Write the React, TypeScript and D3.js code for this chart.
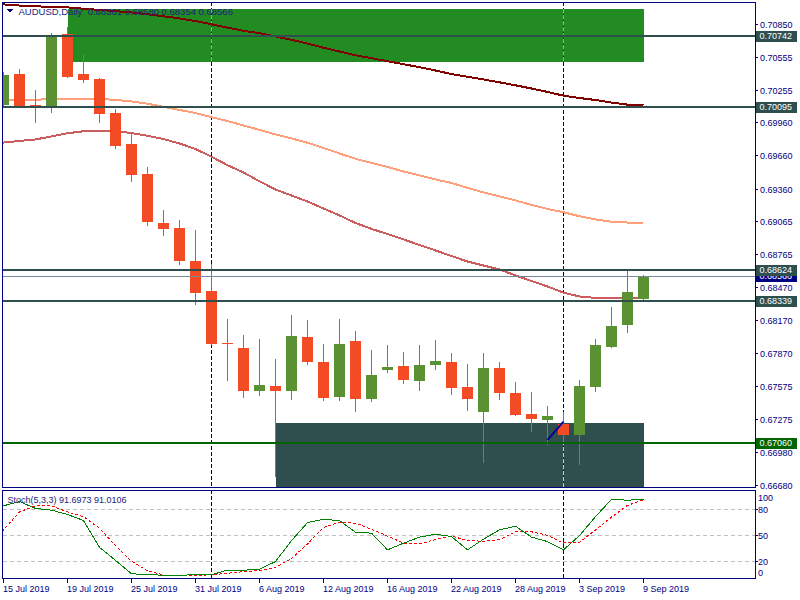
import React from 'react';
import * as d3 from 'd3';

// ---------- data ----------
const DATES = [
  '15 Jul 2019', '16 Jul 2019', '17 Jul 2019', '18 Jul 2019', '19 Jul 2019', '22 Jul 2019', '23 Jul 2019',
  '24 Jul 2019', '25 Jul 2019', '26 Jul 2019', '29 Jul 2019', '30 Jul 2019', '31 Jul 2019',
  '1 Aug 2019', '2 Aug 2019', '5 Aug 2019', '6 Aug 2019', '7 Aug 2019', '8 Aug 2019', '9 Aug 2019',
  '12 Aug 2019', '13 Aug 2019', '14 Aug 2019', '15 Aug 2019', '16 Aug 2019', '19 Aug 2019', '20 Aug 2019',
  '21 Aug 2019', '22 Aug 2019', '23 Aug 2019', '26 Aug 2019', '27 Aug 2019', '28 Aug 2019', '29 Aug 2019',
  '30 Aug 2019', '2 Sep 2019', '3 Sep 2019', '4 Sep 2019', '5 Sep 2019', '6 Sep 2019', '9 Sep 2019',
];
const OPEN = [
  0.70117, 0.70397, 0.70117, 0.70092, 0.70762, 0.70397, 0.70352, 0.70044, 0.69764, 0.69492, 0.69049,
  0.69003, 0.68705, 0.68433, 0.67962, 0.67917, 0.67531, 0.67573, 0.67531, 0.68017, 0.67791, 0.67477,
  0.67981, 0.67458, 0.67721, 0.67754, 0.67621, 0.67766, 0.67791, 0.67564, 0.67338, 0.67736, 0.67510,
  0.67320, 0.67266, 0.67229, 0.67130, 0.67564, 0.67926, 0.68126, 0.68361,
];
const HIGH = [
  0.70415, 0.70443, 0.70253, 0.70769, 0.70820, 0.70578, 0.70361, 0.70081, 0.69854, 0.69556, 0.69166,
  0.69076, 0.68985, 0.68678, 0.68180, 0.68035, 0.67999, 0.67818, 0.68216, 0.68171, 0.67954, 0.68180,
  0.68071, 0.67899, 0.67944, 0.67881, 0.67944, 0.67990, 0.67872, 0.67773, 0.67872, 0.67791, 0.67610,
  0.67519, 0.67392, 0.67338, 0.67628, 0.67999, 0.68288, 0.68614, 0.68580,
];
const LOW = [
  0.70108, 0.70099, 0.69954, 0.70047, 0.70364, 0.70313, 0.69957, 0.69719, 0.69420, 0.69022, 0.68931,
  0.68669, 0.68307, 0.67940, 0.67621, 0.67465, 0.67483, 0.66752, 0.67450, 0.67766, 0.67440, 0.67440,
  0.67341, 0.67431, 0.67694, 0.67594, 0.67531, 0.67721, 0.67492, 0.67347, 0.66879, 0.67447, 0.67302,
  0.67157, 0.67039, 0.67066, 0.66858, 0.67519, 0.67917, 0.68053, 0.68354,
];
const CLOSE = [
  0.70388, 0.70108, 0.70090, 0.70750, 0.70373, 0.70343, 0.70035, 0.69746, 0.69483, 0.69058, 0.68994,
  0.68705, 0.68415, 0.67956, 0.67955, 0.67531, 0.67582, 0.67531, 0.68026, 0.67793, 0.67465, 0.67954,
  0.67458, 0.67673, 0.67743, 0.67630, 0.67763, 0.67800, 0.67558, 0.67456, 0.67736, 0.67510, 0.67311,
  0.67275, 0.67302, 0.67130, 0.67573, 0.67944, 0.68116, 0.68424, 0.68566,
];
// moving averages, first value belongs to the bar before 15 Jul (off-screen)
const MA_SLOW = [
  0.71031, 0.71027, 0.71017, 0.71010, 0.71005, 0.71000, 0.70988, 0.70977, 0.70966, 0.70954, 0.70938,
  0.70920, 0.70900, 0.70877, 0.70847, 0.70817, 0.70788, 0.70767, 0.70737, 0.70707, 0.70673, 0.70635,
  0.70601, 0.70567, 0.70540, 0.70513, 0.70486, 0.70459, 0.70429, 0.70397, 0.70372, 0.70348, 0.70322,
  0.70295, 0.70266, 0.70235, 0.70201, 0.70180, 0.70162, 0.70139, 0.70120, 0.70114,
];
const MA_MID = [
  0.70162, 0.70162, 0.70162, 0.70165, 0.70169, 0.70173, 0.70174, 0.70171, 0.70163, 0.70149, 0.70128,
  0.70101, 0.70072, 0.70044, 0.70006, 0.69972, 0.69931, 0.69892, 0.69850, 0.69814, 0.69775, 0.69728,
  0.69678, 0.69630, 0.69592, 0.69556, 0.69515, 0.69479, 0.69443, 0.69411, 0.69367, 0.69325, 0.69289,
  0.69253, 0.69212, 0.69176, 0.69146, 0.69110, 0.69081, 0.69060, 0.69053, 0.69051,
];
const MA_FAST = [
  0.69764, 0.69777, 0.69791, 0.69805, 0.69832, 0.69861, 0.69879, 0.69882, 0.69880, 0.69863, 0.69838,
  0.69809, 0.69768, 0.69719, 0.69648, 0.69572, 0.69506, 0.69426, 0.69352, 0.69298, 0.69243, 0.69180,
  0.69117, 0.69049, 0.68995, 0.68949, 0.68900, 0.68850, 0.68800, 0.68750, 0.68700, 0.68664, 0.68628,
  0.68574, 0.68524, 0.68474, 0.68418, 0.68384, 0.68370, 0.68367, 0.68370, 0.68373,
];
const STOCH_K = [
  80, 84, 89, 81, 79, 74, 67, 36, 21, 5.5, 4.3, 3.9, 3.1, 5, 4.3, 9.7, 9.5, 10.8, 19.6, 43.8, 64.6,
  68.5, 66.9, 53.5, 52.4, 33.1, 40.8, 47.8, 51.2, 48.5, 33.1, 45.5, 56.2, 60.5, 47.8, 42.7, 33.1,
  49.6, 71.5, 91.6, 90.5, 91.6973,
];
const STOCH_D = [
  48, 56, 77, 84, 84, 77, 71.5, 58, 38, 20, 9, 4, 3.5, 3.5, 4.3, 6, 8, 9.2, 13, 23, 40, 59, 65, 64,
  57, 49, 41, 40, 45, 49, 44, 43, 45, 54, 54, 50, 41, 42, 56, 71, 84.5, 91.0106,
];
const PRICE_TICKS = [
  0.7085, 0.70555, 0.70255, 0.6996, 0.6966, 0.6936, 0.69065, 0.68765, 0.6847, 0.6817, 0.6787,
  0.67575, 0.67275, 0.6698, 0.6668,
];
const STOCH_LEVELS = [80, 50, 20];
const STOCH_LABELS = [100, 80, 50, 20, 0];
const SR_LEVELS = [0.70742, 0.70095, 0.68624, 0.68339];
const SUPPORT_LEVEL = 0.6706;
const UPPER_ZONE = [4, 40, 0.70986, 0.70509]; // fromBar, toBar, top, bottom
const LOWER_ZONE = [17, 40, 0.67239, 0.665];
const TREND = [34, 0.67085, 35, 0.6725];
const TITLE = 'AUDUSD,Daily  0.68361 0.68580 0.68354 0.68566';
const STOCH_TITLE = 'Stoch(5,3,3) 91.6973 91.0106';

// ---------- chart ----------
const NAVY = '#000080';
const BULL = '#5a9132';
const BEAR = '#f24b26';
const SLATE = '#2f4f4f';
const FONT = '"Liberation Sans", Arial, sans-serif';

export default function App() {
  const n = DATES.length;
  const x = d3.scaleLinear().domain([0, n - 1]).range([3.5, 643.5]);
  const y = d3.scaleLinear().domain([0.6665, 0.71049]).range([488, 2]);
  const ys = d3.scaleLinear().domain([0, 100]).range([578.5, 492]);

  const maLine = d3
    .line<number>()
    .x((_, i) => x(i - 1))
    .y((v) => y(v));
  const stLine = d3
    .line<number>()
    .x((_, i) => x(i - 1))
    .y((v) => ys(v));

  const separators = DATES.map((d, i) => (i > 0 && d.split(' ')[1] !== DATES[i - 1].split(' ')[1] ? i : -1)).filter(
    (i) => i >= 0
  );
  const ticks = DATES.map((_, i) => i).filter((i) => i % 4 === 0);
  const current = CLOSE[n - 1];

  const zoneRect = (z: number[], fill: string) => (
    <rect
      x={x(z[0])}
      y={y(z[2])}
      width={x(z[1]) - x(z[0])}
      height={y(z[3]) - y(z[2])}
      fill={fill}
    />
  );

  const priceLabel = (p: number, bg: string, key: string) => (
    <g key={key}>
      <rect x={756} y={Math.round(y(p)) - 5.5} width={41} height={11} fill={bg} />
      <text x={759.5} y={Math.round(y(p)) + 3.3} fill="#ffffff" fontSize={9} fontFamily={FONT}>
        {p.toFixed(5)}
      </text>
    </g>
  );

  return (
    <svg
      width={800}
      height={600}
      style={{ position: 'absolute', left: 0, top: 0, background: '#fff' }}
      shapeRendering="crispEdges"
    >
      <defs>
        <clipPath id="mainClip">
          <rect x={3} y={3} width={752} height={485} />
        </clipPath>
        <clipPath id="stochClip">
          <rect x={3} y={491} width={752} height={87} />
        </clipPath>
      </defs>
      <rect x={0} y={0} width={800} height={600} fill="#fff" />

      {/* main panel */}
      <g clipPath="url(#mainClip)">
        {zoneRect(UPPER_ZONE, '#228b22')}
        {zoneRect(LOWER_ZONE, SLATE)}
        {separators.map((i) => (
          <g key={'sep' + i}>
            <line x1={x(i)} x2={x(i)} y1={2} y2={488} stroke={NAVY} strokeDasharray="4,2" />
            {x(i) >= x(UPPER_ZONE[0]) && x(i) <= x(UPPER_ZONE[1]) && (
              <line x1={x(i)} x2={x(i)} y1={y(UPPER_ZONE[2])} y2={y(UPPER_ZONE[3])} stroke="#c88ad0" strokeDasharray="4,2" />
            )}
            {x(i) >= x(LOWER_ZONE[0]) && x(i) <= x(LOWER_ZONE[1]) && (
              <line x1={x(i)} x2={x(i)} y1={y(LOWER_ZONE[2])} y2={488} stroke="#c8c8d0" strokeDasharray="4,2" />
            )}
          </g>
        ))}
        <path d={maLine(MA_SLOW) || ''} fill="none" stroke="#800000" strokeWidth={2} />
        <path d={maLine(MA_MID) || ''} fill="none" stroke="#ffa07a" strokeWidth={2} />
        <path d={maLine(MA_FAST) || ''} fill="none" stroke="#cd5c5c" strokeWidth={2} />
        {DATES.map((_, i) => {
          const o = OPEN[i];
          const c = CLOSE[i];
          const col = c >= o ? BULL : BEAR;
          const cx = x(i);
          const top = Math.round(y(Math.max(o, c)));
          const bot = Math.round(y(Math.min(o, c)));
          return (
            <g key={'c' + i}>
              <line x1={cx} x2={cx} y1={y(HIGH[i])} y2={y(LOW[i])} stroke={col} />
              <rect x={cx - 5.5} y={top} width={11} height={Math.max(1, bot - top)} fill={col} />
            </g>
          );
        })}
        <line
          x1={x(TREND[0])}
          y1={y(TREND[1])}
          x2={x(TREND[2])}
          y2={y(TREND[3])}
          stroke="#0000a0"
          strokeWidth={2}
          shapeRendering="auto"
        />
        <line x1={2} x2={755} y1={Math.round(y(current)) + 0.5} y2={Math.round(y(current)) + 0.5} stroke="#778899" />
        {SR_LEVELS.map((p) => (
          <line key={'sr' + p} x1={2} x2={755} y1={Math.round(y(p))} y2={Math.round(y(p))} stroke={SLATE} strokeWidth={2} />
        ))}
        <line x1={2} x2={755} y1={Math.round(y(SUPPORT_LEVEL))} y2={Math.round(y(SUPPORT_LEVEL))} stroke="#006400" strokeWidth={2} />
      </g>

      {/* title */}
      <polygon points="7,9 13,9 10,12.5" fill={NAVY} />
      <text x={18.5} y={14.5} fill="#1a237e" fontSize={9.5} fontFamily={FONT} style={{ whiteSpace: 'pre' }}>
        {TITLE}
      </text>

      {/* main frame and price axis */}
      <rect x={2.5} y={2.5} width={752.5} height={485} fill="none" stroke={NAVY} />
      {PRICE_TICKS.map((p) => (
        <g key={'pt' + p}>
          <line x1={755} x2={758} y1={Math.round(y(p)) + 0.5} y2={Math.round(y(p)) + 0.5} stroke={NAVY} />
          <text x={760} y={Math.round(y(p)) + 3.5} fill={NAVY} fontSize={9} fontFamily={FONT}>
            {p.toFixed(5)}
          </text>
        </g>
      ))}
      {priceLabel(current, NAVY, 'cur')}
      {SR_LEVELS.map((p) => priceLabel(p, SLATE, 'l' + p))}
      {priceLabel(SUPPORT_LEVEL, '#006400', 'sup')}

      {/* stochastic panel */}
      <g clipPath="url(#stochClip)">
        {STOCH_LEVELS.map((v) => (
          <line key={'lv' + v} x1={3} x2={755} y1={Math.round(ys(v)) + 0.5} y2={Math.round(ys(v)) + 0.5} stroke="#c0c0c0" strokeDasharray="4,3" />
        ))}
        {separators.map((i) => (
          <line key={'ss' + i} x1={x(i)} x2={x(i)} y1={490} y2={579} stroke={NAVY} strokeDasharray="4,2" />
        ))}
        <path d={stLine(STOCH_D) || ''} fill="none" stroke="#ff0000" strokeDasharray="3,2" />
        <path d={stLine(STOCH_K) || ''} fill="none" stroke="#008000" />
      </g>
      <text x={7.5} y={502.5} fill="#1a237e" fontSize={9} fontFamily={FONT}>
        {STOCH_TITLE}
      </text>
      <rect x={2.5} y={490.5} width={752.5} height={88} fill="none" stroke={NAVY} />
      {STOCH_LEVELS.map((v) => (
        <line key={'st' + v} x1={755} x2={758} y1={Math.round(ys(v)) + 0.5} y2={Math.round(ys(v)) + 0.5} stroke={NAVY} />
      ))}
      {STOCH_LABELS.map((v) => (
        <text key={'sl' + v} x={758} y={Math.min(572, Math.max(497, ys(v))) + 3.5} fill={NAVY} fontSize={9} fontFamily={FONT}>
          {v}
        </text>
      ))}

      {/* time axis */}
      {ticks.map((i) => (
        <g key={'t' + i}>
          <line x1={x(i)} x2={x(i)} y1={578.5} y2={583} stroke={NAVY} />
          <text x={x(i) - 0.5} y={592} fill={NAVY} fontSize={9} fontFamily={FONT}>
            {DATES[i]}
          </text>
        </g>
      ))}
    </svg>
  );
}
